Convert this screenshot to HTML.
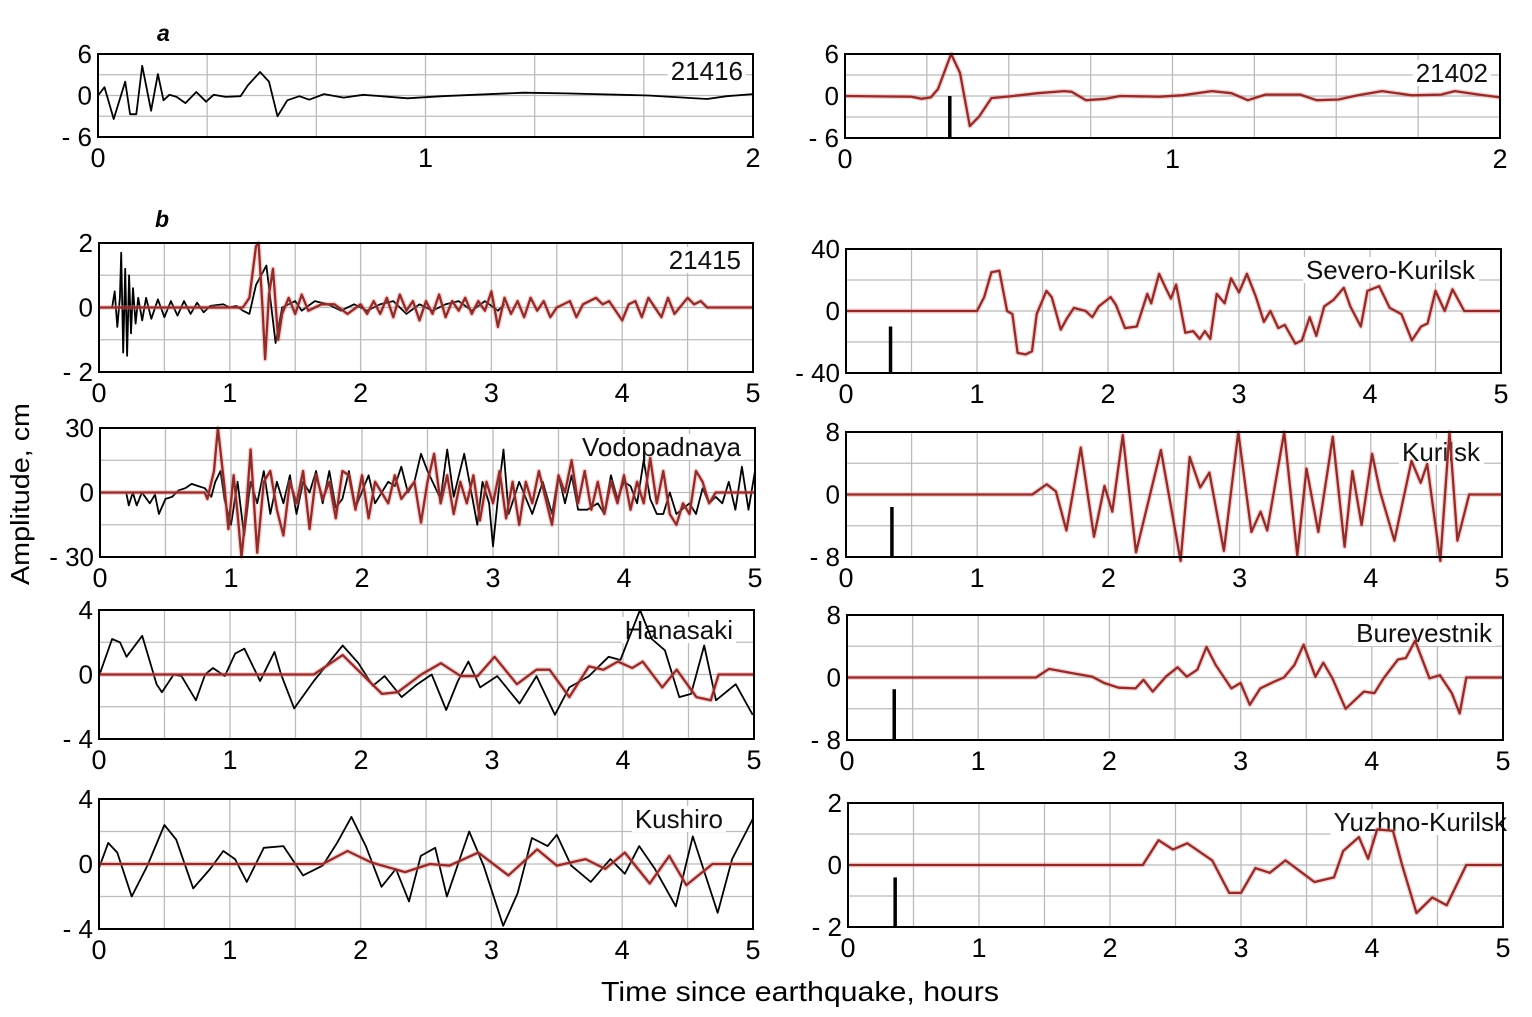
<!DOCTYPE html>
<html><head><meta charset="utf-8">
<style>
html,body{margin:0;padding:0;background:#fff;}
svg{display:block;font-family:"Liberation Sans",sans-serif;}
</style></head>
<body>
<svg id="fig" width="1532" height="1017" viewBox="0 0 1532 1017" xmlns="http://www.w3.org/2000/svg">
<rect width="1532" height="1017" fill="#fff"/>
<text x="157" y="41" font-size="23" font-weight="bold" font-style="italic">a</text>
<text x="155" y="227" font-size="23" font-weight="bold" font-style="italic">b</text>
<text transform="translate(29,494) rotate(-90)" text-anchor="middle" font-size="26" textLength="182" lengthAdjust="spacingAndGlyphs">Amplitude,  cm</text>
<text x="800" y="1001" text-anchor="middle" font-size="28" textLength="398" lengthAdjust="spacingAndGlyphs">Time since earthquake,  hours</text>
</svg>
<script>
// ---- data (time in hours, amplitude in cm) ----
const t21416=[0,.02,.048,.083,.098,.117,.135,.162,.183,.2,.218,.24,.267,.3,.33,.353,.39,.435,.458,.495,.522,.548,.578,.615,.645,.69,.75,.81,.945,1.05,1.3,1.43,1.68,1.86,1.92,2];
const v21416=[0,1.2,-3.4,2,-2.7,-2.7,4.3,-2.2,3.1,-.7,.1,-.2,-1.1,.5,-.9,.1,-.2,-.1,1.5,3.4,2,-3,-.7,-.1,-.6,.2,-.3,.1,-.4,-.1,.4,.3,0,-.5,-.1,.2];
const t21402=[0,.203,.233,.262,.284,.324,.351,.381,.41,.447,.514,.588,.67,.692,.736,.796,.84,.96,1.03,1.12,1.18,1.23,1.284,1.39,1.44,1.507,1.566,1.64,1.73,1.82,1.862,1.936,2];
const v21402=[0,-.1,-.4,-.2,1,6,3.3,-4.3,-2.9,-.3,0,.4,.7,.6,-.6,-.4,0,-.1,.1,.7,.4,-.6,.2,.2,-.6,-.5,.1,.7,.1,.2,.7,.2,-.2];
const t21415b=[0,.1,.12,.14,.16,.17,.185,.2,.215,.23,.245,.26,.28,.3,.33,.36,.4,.45,.5,.55,.6,.65,.7,.75,.8,.85,.95,1.0,1.05,1.1,1.15,1.2,1.28,1.35,1.4,1.5,1.55,1.65,1.75,1.85,1.95,2.05,2.15,2.25,2.35,2.45,2.55,2.65,2.75,2.85,2.95,3.05,3.1];
const v21415b=[0,0,.5,-.6,.3,1.7,-1.4,1.2,-1.5,1.0,-.8,.6,-.5,.3,-.4,.3,-.35,.25,-.3,.2,-.25,.2,-.2,.15,-.15,.05,.1,0,.05,-.1,-.2,.7,1.3,-1.1,0,.2,-.1,.2,.1,-.1,.1,-.1,.1,.2,-.2,.1,-.1,.1,.2,-.1,.2,-.1,.1];
const t21415r=[0,1.1,1.15,1.2,1.22,1.25,1.27,1.3,1.33,1.37,1.4,1.45,1.5,1.55,1.6,1.7,1.8,1.9,2.0,2.05,2.1,2.15,2.2,2.25,2.3,2.35,2.4,2.45,2.5,2.55,2.6,2.65,2.7,2.75,2.8,2.85,2.9,2.95,3.0,3.05,3.1,3.15,3.2,3.25,3.3,3.35,3.4,3.45,3.5,3.6,3.65,3.7,3.8,3.85,3.9,4.0,4.05,4.1,4.15,4.2,4.3,4.35,4.4,4.5,4.55,4.6,4.65,4.7,5];
const v21415r=[0,0,.3,1.9,2.0,0,-1.6,.4,1.2,-1.0,-.2,.3,-.2,.4,-.1,.1,.1,-.2,.1,-.2,.2,-.2,.3,-.3,.4,-.1,.2,-.4,.2,-.2,.4,-.3,.2,-.1,.3,-.2,.2,-.1,.5,-.6,.3,-.2,.2,-.3,.3,-.1,.2,-.3,0,.2,-.3,.1,.3,.1,.2,-.4,.1,.2,-.3,.3,-.3,.3,-.2,.3,.1,.2,0,0,0];
const tSev=[0,1.0,1.055,1.11,1.17,1.23,1.27,1.31,1.37,1.42,1.456,1.53,1.57,1.64,1.685,1.74,1.83,1.88,1.93,2.02,2.06,2.13,2.22,2.3,2.33,2.39,2.44,2.48,2.52,2.59,2.65,2.7,2.74,2.78,2.83,2.89,2.94,3.0,3.06,3.13,3.19,3.24,3.3,3.35,3.43,3.48,3.54,3.59,3.65,3.72,3.8,3.85,3.93,3.98,4.07,4.15,4.24,4.32,4.39,4.44,4.5,4.57,4.63,4.72,5];
const vSev=[0,0,9,25,26,0,-2,-27,-28,-26,-2,13,9,-12,-5,2,0,-4,3,9,4,-11,-10,11,5,24,15,8,17,-14,-13,-18,-13,-18,11,5,21,12,24,9,-7,0,-11,-9,-21,-19,-4,-16,3,7,15,3,-10,13,16,2,-2,-19,-10,-8,13,0,14,0,0];
const tVodR=[0,.8,.82,.87,.9,.95,.98,1.02,1.05,1.08,1.12,1.15,1.2,1.25,1.3,1.35,1.4,1.45,1.5,1.55,1.6,1.65,1.7,1.75,1.8,1.85,1.9,1.95,2.0,2.05,2.1,2.2,2.25,2.3,2.4,2.45,2.5,2.55,2.6,2.65,2.7,2.75,2.8,2.85,2.9,2.95,3.0,3.05,3.1,3.15,3.2,3.25,3.3,3.35,3.45,3.5,3.55,3.6,3.65,3.7,3.75,3.8,3.85,3.9,3.95,4.0,4.05,4.1,4.15,4.2,4.25,4.3,4.35,4.4,4.45,4.5,4.55,4.6,4.65,4.7,5];
const vVodR=[0,0,-3,10,30,3,-17,8,-10,-30,-5,20,-28,5,10,-8,-20,5,-5,10,-17,8,-3,5,-12,10,8,-8,8,-12,5,-5,8,-3,5,-14,5,18,-5,8,-10,5,-5,8,-13,5,-5,10,-12,5,-15,5,-5,10,-15,8,0,15,-5,10,-8,5,-10,5,-5,8,-8,5,-5,16,-5,10,-10,-15,-5,-10,10,5,-5,0,0];
const tVodB=[0,.2,.22,.25,.28,.32,.38,.42,.45,.5,.55,.6,.65,.7,.75,.8,.85,.88,.92,.95,1.0,1.05,1.1,1.15,1.2,1.25,1.3,1.35,1.4,1.45,1.5,1.55,1.6,1.65,1.7,1.75,1.8,1.85,1.9,1.95,2.05,2.1,2.2,2.25,2.3,2.35,2.4,2.45,2.5,2.6,2.65,2.7,2.78,2.82,2.88,2.92,2.97,3.0,3.05,3.08,3.12,3.2,3.3,3.38,3.45,3.5,3.55,3.6,3.65,3.72,3.8,3.85,3.9,3.95,4.0,4.05,4.1,4.15,4.2,4.25,4.3,4.35,4.4,4.5,4.55,4.6,4.65,4.7,4.75,4.8,4.85,4.9,4.95,5.0];
const vVodB=[0,0,-6,0,-6,0,-5,-1,-10,-3,-2,1,2,4,3,2,-2,5,10,-3,-15,5,-20,5,-5,10,-10,5,-5,8,-10,5,0,10,-5,10,-7,-3,10,-7,8,-5,5,3,12,0,5,18,10,-3,20,-2,18,5,-15,5,-5,-25,5,20,-10,5,-10,5,-10,8,-5,8,-8,-8,-5,-10,8,-3,5,3,-5,15,-3,-10,-10,0,-10,-5,-10,2,-5,-2,-5,5,-8,12,-8,10];
const tKur=[0,1.42,1.53,1.6,1.68,1.79,1.89,1.97,2.03,2.11,2.21,2.4,2.55,2.62,2.7,2.77,2.88,2.99,3.09,3.16,3.21,3.34,3.44,3.51,3.6,3.71,3.8,3.86,3.93,4.01,4.07,4.18,4.31,4.38,4.43,4.53,4.6,4.66,4.75,5];
const vKur=[0,0,1.3,.4,-4.6,6,-5.4,1.1,-2.2,7.6,-7.4,5.7,-8.5,4.8,.9,2.8,-7.2,8,-4.8,-2.2,-4.6,8,-7.8,3.3,-4.8,7.4,-6.7,3,-3.9,5.2,.4,-5.9,4.3,1.5,3.9,-8.5,8,-5.9,0,0];
const tHanB=[0,.1,.16,.21,.33,.44,.48,.57,.63,.74,.81,.87,.96,1.04,1.11,1.23,1.34,1.39,1.49,1.64,1.75,1.86,1.98,2.09,2.18,2.31,2.43,2.54,2.65,2.74,2.82,2.91,3.04,3.21,3.34,3.48,3.59,3.74,3.89,3.98,4.13,4.22,4.32,4.43,4.52,4.62,4.71,4.86,4.99];
const vHanB=[-.1,2.2,2,1.1,2.4,-.6,-1.1,0,-.1,-1.6,0,.4,-.1,1.3,1.6,-.4,1.4,0,-2.1,-.4,.7,1.8,.7,-.7,-.1,-1.4,-.6,0,-2.2,-.4,.8,-.8,-.1,-1.8,-.1,-2.5,-.8,-.1,1.1,.9,4,2.2,1.5,-1.4,-1.2,1.8,-1.6,-.6,-2.5];
const tHanR=[0,1.64,1.86,2.16,2.28,2.46,2.61,2.76,2.89,3.02,3.19,3.34,3.44,3.59,3.74,3.85,3.96,4.07,4.15,4.3,4.41,4.56,4.67,4.73,5];
const vHanR=[0,0,1.2,-1.2,-1.1,0,.7,-.1,-.1,1.1,-.6,.3,.3,-1.4,.5,.3,.8,.4,.8,-.8,.3,-1.4,-1.6,0,0];
const tBur=[0,1.44,1.54,1.7,1.87,1.96,2.07,2.2,2.26,2.33,2.43,2.52,2.59,2.67,2.74,2.81,2.93,3.0,3.07,3.15,3.26,3.33,3.41,3.48,3.57,3.63,3.7,3.8,3.94,4.02,4.09,4.2,4.26,4.33,4.44,4.52,4.61,4.67,4.72,5];
const vBur=[0,0,1.1,.6,.1,-.7,-1.3,-1.4,-.3,-1.8,.1,1.3,.1,1,3.9,1.6,-1.4,-.7,-3.5,-1.4,-.5,0,1.6,4.2,.1,1.9,-.1,-4,-1.8,-2,-.1,2.3,2.5,4.7,-.1,.3,-2,-4.6,0,0];
const tKusB=[0,.07,.14,.25,.37,.5,.59,.72,.85,.95,1.04,1.13,1.26,1.41,1.56,1.71,1.82,1.93,2.04,2.16,2.27,2.37,2.46,2.57,2.66,2.83,2.94,3.09,3.2,3.31,3.43,3.5,3.61,3.76,3.91,4.02,4.13,4.25,4.41,4.54,4.73,4.84,5];
const vKusB=[-.25,1.3,.7,-2,-.1,2.4,1.5,-1.5,-.3,.8,.3,-1.1,1,1.1,-.7,-.1,1.3,2.9,1.1,-1.4,-.3,-2.3,.5,1,-2,2,-.1,-3.8,-1.8,1.6,1.1,1.8,-.1,-1.1,.3,-.6,1.1,-.3,-2.6,1.7,-3,.3,2.8];
const tKusR=[0,1.71,1.9,2.08,2.34,2.53,2.68,2.9,3.13,3.35,3.5,3.72,3.87,4.02,4.21,4.36,4.49,4.69,5];
const vKusR=[0,0,.8,.1,-.5,0,-.1,.7,-.7,.9,-.1,.3,-.3,.7,-1.2,.5,-1.3,0,0];
const tYuz=[0,2.25,2.37,2.48,2.59,2.78,2.91,3.0,3.11,3.22,3.34,3.45,3.56,3.71,3.78,3.9,3.97,4.04,4.16,4.23,4.34,4.46,4.57,4.72,5];
const vYuz=[0,0,.8,.5,.7,.15,-.9,-.9,-.1,-.25,.15,-.2,-.55,-.4,.45,.9,.2,1.15,1.1,0,-1.55,-1.05,-1.3,0,0];
const ticks2=['0','1','2'];
const ticks5=['0','1','2','3','4','5'];

const NS='http://www.w3.org/2000/svg';
const svg=document.getElementById('fig');
function mk(tag,attrs,parent){const e=document.createElementNS(NS,tag);for(const k in attrs)e.setAttribute(k,attrs[k]);(parent||svg).appendChild(e);return e;}

const panels=[
 {id:'21416',x0:98,x1:753,y0:54,y1:137,xmax:2,ymax:6,xg:1/3,yg:3,yl:['6','0','- 6'],xl:ticks2,lab:'21416',lx:743,ly:80,series:[[t21416,v21416,'k']]},
 {id:'21402',x0:845,x1:1500,y0:54,y1:138,xmax:2,ymax:6,xg:.25,yg:3,yl:['6','0','- 6'],xl:ticks2,lab:'21402',lx:1488,ly:82,series:[[t21402,v21402,'r']],mk:[.32,0]},
 {id:'21415',x0:99,x1:753,y0:243,y1:372,xmax:5,ymax:2,xg:.5,yg:1,yl:['2','0','- 2'],xl:ticks5,lab:'21415',lx:741,ly:269,series:[[t21415b,v21415b,'k'],[t21415r,v21415r,'r']]},
 {id:'severo',x0:846,x1:1501,y0:249,y1:373,xmax:5,ymax:40,xg:.5,yg:20,yl:['40','0','- 40'],xl:ticks5,lab:'Severo-Kurilsk',lx:1475,ly:279,series:[[tSev,vSev,'r']],mk:[.34,-10]},
 {id:'vodopadnaya',x0:100,x1:755,y0:428,y1:557,xmax:5,ymax:30,xg:.5,yg:15,yl:['30','0','- 30'],xl:ticks5,lab:'Vodopadnaya',lx:741,ly:456,series:[[tVodB,vVodB,'k'],[tVodR,vVodR,'r']]},
 {id:'kurilsk',x0:846,x1:1502,y0:432,y1:557,xmax:5,ymax:8,xg:.5,yg:4,yl:['8','0','- 8'],xl:ticks5,lab:'Kurilsk',lx:1480,ly:461,series:[[tKur,vKur,'r']],mk:[.35,-1.6]},
 {id:'hanasaki',x0:99,x1:754,y0:610,y1:739,xmax:5,ymax:4,xg:.5,yg:2,yl:['4','0','- 4'],xl:ticks5,lab:'Hanasaki',lx:733,ly:639,series:[[tHanB,vHanB,'k'],[tHanR,vHanR,'r']]},
 {id:'burevestnik',x0:847,x1:1503,y0:615,y1:740,xmax:5,ymax:8,xg:.5,yg:4,yl:['8','0','- 8'],xl:ticks5,lab:'Burevestnik',lx:1492,ly:642,series:[[tBur,vBur,'r']],mk:[.36,-1.5]},
 {id:'kushiro',x0:99,x1:753,y0:799,y1:929,xmax:5,ymax:4,xg:.5,yg:2,yl:['4','0','- 4'],xl:ticks5,lab:'Kushiro',lx:723,ly:828,series:[[tKusB,vKusB,'k'],[tKusR,vKusR,'r']]},
 {id:'yuzhno',x0:848,x1:1503,y0:803,y1:927,xmax:5,ymax:2,xg:.5,yg:1,yl:['2','0','- 2'],xl:ticks5,lab:'Yuzhno-Kurilsk',lx:1507,ly:831,series:[[tYuz,vYuz,'r']],mk:[.36,-.4]}
];

panels.forEach(p=>{
 const g=mk('g',{});
 
 
 const sx=t=>p.x0+(t/p.xmax)*(p.x1-p.x0);
 const sy=v=>(p.y0+p.y1)/2-(v/p.ymax)*(p.y1-p.y0)/2;
 for(let t=p.xg;t<p.xmax-1e-6;t+=p.xg){const l=mk('line',{x1:sx(t),x2:sx(t),y1:p.y0,y2:p.y1,stroke:'#bbb','stroke-width':1.3},g);}
 for(let v=-p.ymax+p.yg;v<p.ymax-1e-6;v+=p.yg){const l=mk('line',{x1:p.x0,x2:p.x1,y1:sy(v),y2:sy(v),stroke:'#bbb','stroke-width':1.3},g);}
 const lab=mk('text',{x:p.lx,y:p.ly,'text-anchor':'end','font-size':26,fill:'#111'},g);
 lab.textContent=p.lab;
 
 
 const bb=lab.getBBox();
 const bg=mk('rect',{x:bb.x-3,y:bb.y+2,width:bb.width+6,height:bb.height-4,fill:'#fff'},g);
 
 
 g.insertBefore(bg,lab);
 p.series.forEach(([ts,vs,c])=>{
  const d=ts.map((t,i)=>(i?'L':'M')+sx(t).toFixed(1)+','+sy(vs[i]).toFixed(1)).join('');
  if(c==='r'){const h=mk('path',{d:d,fill:'none',stroke:'rgba(240,120,120,0.35)','stroke-width':5,'stroke-linejoin':'round'},g);}
  const s=mk('path',{d:d,fill:'none',stroke:c==='r'?'#8c2e2b':'#000','stroke-width':c==='r'?2.3:1.8,'stroke-linejoin':'round'},g);
  
  
 });
 if(p.mk){const m=mk('line',{x1:sx(p.mk[0]),x2:sx(p.mk[0]),y1:sy(p.mk[1]),y2:p.y1,stroke:'#000','stroke-width':3.5},g);}
 const fr=mk('rect',{x:p.x0,y:p.y0,width:p.x1-p.x0,height:p.y1-p.y0,fill:'none',stroke:'#000','stroke-width':2},g);
 
 
 [p.y0+9,(p.y0+p.y1)/2+9,p.y1+9].forEach((y,i)=>{const t=mk('text',{x:p.x0-6,y:y,'text-anchor':'end','font-size':26},g);t.textContent=p.yl[i];});
 p.xl.forEach((s,i)=>{const t=mk('text',{x:sx(i),y:p.y1+30,'text-anchor':'middle','font-size':27},g);t.textContent=s;});
});
</script>
</body></html>
